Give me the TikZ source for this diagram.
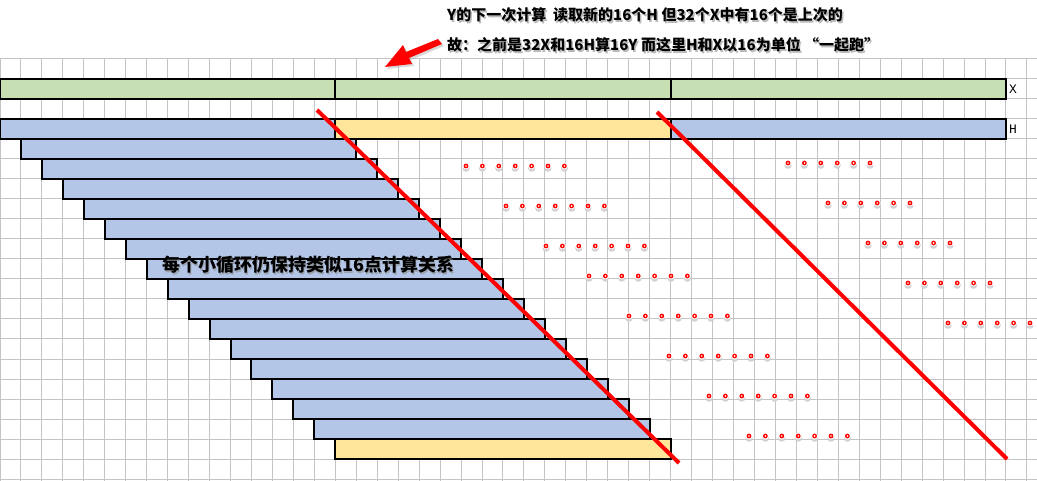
\documentclass[tikz,border=0pt]{standalone}
\usepackage{fontspec}
\newfontfamily\cjk{Noto Sans CJK SC}
\newfontfamily\monof{Liberation Mono}
\definecolor{xgreen}{HTML}{C6E0B4}
\definecolor{hblue}{HTML}{B4C6E7}
\definecolor{hyel}{HTML}{FFE699}
\definecolor{gridc}{HTML}{C4C4C4}
\tikzset{
  gridline/.style={draw=gridc, line width=1pt},
  bar/.style={draw=black, line width=2pt},
  redline/.style={draw=red, line width=4pt},
  txt/.style={font=\cjk\bfseries\fontsize{15}{18}\selectfont, anchor=west, inner sep=0pt, text=black},
  txtsh/.style={txt, text=black!45, opacity=0.6},
  lbl/.style={font=\monof\fontsize{13}{14}\selectfont, anchor=west, inner sep=0pt}
}
\begin{document}
\begin{tikzpicture}[x=1pt,y=-1pt]
\useasboundingbox (0,0) rectangle (1037,481);
\fill[white] (0,0) rectangle (1037,481);
\def\w{20.958}
% grid
\foreach \k in {0,...,49} \draw[gridline] ({\k*\w},59) -- ({\k*\w},481);
\foreach \j in {0,...,21} \draw[gridline] (0,{59+20*\j}) -- (1037,{59+20*\j});
% X row
\draw[bar,fill=xgreen] (0,79) rectangle ({16*\w},99);
\draw[bar,fill=xgreen] ({16*\w},79) rectangle ({32*\w},99);
\draw[bar,fill=xgreen] ({32*\w},79) rectangle ({48*\w},99);
% H row
\draw[bar,fill=hblue] (0,119) rectangle ({16*\w},139);
\draw[bar,fill=hyel] ({16*\w},119) rectangle ({32*\w},139);
\draw[bar,fill=hblue] ({32*\w},119) rectangle ({48*\w},139);
% staggered
\foreach \i in {1,...,15}
  \draw[bar,fill=hblue] ({\i*\w},{119+20*\i}) rectangle ({(\i+16)*\w},{139+20*\i});
\draw[bar,fill=hyel] ({16*\w},439) rectangle ({32*\w},459);
% labels
\node[lbl] (lx) at (1009,89) {X};
\node[lbl] (lh) at (1009,129) {H};
% red lines
\coordinate (a1) at (317,110); \coordinate (a2) at (679,463);
\coordinate (b1) at (657,112); \coordinate (b2) at (1007,459);
\draw[redline] (a1) -- (a2);
\draw[redline] (b1) -- (b2);
% dots
\foreach \x/\y in {466/166,506/206,546/246,589/276,629/316,669/356,709/396,749/436}
  \foreach \n in {0,...,6} {
    \fill[black!18] ({\x+16.4*\n},{\y+2.2}) circle (3.6);
    \fill[white] ({\x+16.4*\n},\y) circle (3.4);
    \fill[red] ({\x+16.4*\n},\y) circle (2.4);
    \fill[white] ({\x+16.4*\n},\y) circle (0.9);
  }
\foreach \x/\y in {788/163,828/203,868/243,908/283,948/323}
  \foreach \n in {0,...,5} {
    \fill[black!18] ({\x+16.4*\n},{\y+2.2}) circle (3.6);
    \fill[white] ({\x+16.4*\n},\y) circle (3.4);
    \fill[red] ({\x+16.4*\n},\y) circle (2.4);
    \fill[white] ({\x+16.4*\n},\y) circle (0.9);
  }
% arrow
\fill[black!30, opacity=0.5] (387,69) -- (405,47) -- (408,54) -- (440,41) -- (444,46) -- (411,60) -- (414,66) -- cycle;
\fill[red] (385,67) -- (403,45) -- (406,52) -- (438,39) -- (442,44) -- (409,58) -- (412,64) -- cycle;
% texts
\node[txtsh] at (448.5,16.5) {Y的下一次计算\ \ 读取新的16个H 但32个X中有16个是上次的};
\node[txt] (t1) at (447,15) {Y的下一次计算\ \ 读取新的16个H 但32个X中有16个是上次的};
\node[txtsh] at (448.5,46.5) {故：之前是32X和16H算16Y 而这里H和X以16为单位 “一起跑”};
\node[txt] (t2) at (447,45) {故：之前是32X和16H算16Y 而这里H和X以16为单位 “一起跑”};
\node[txtsh, font=\cjk\bfseries\fontsize{18}{20}\selectfont] at (163.5,266.5) {每个小循环仍保持类似16点计算关系};
\node[txt, font=\cjk\bfseries\fontsize{18}{20}\selectfont] (t3) at (162,265) {每个小循环仍保持类似16点计算关系};
\end{tikzpicture}
\end{document}
